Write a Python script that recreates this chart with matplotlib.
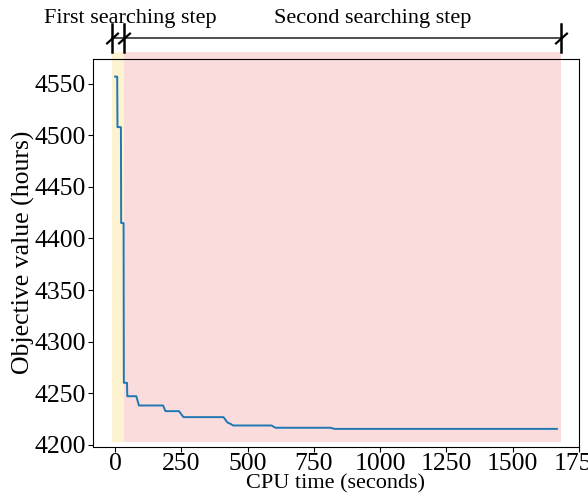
import numpy as np
import matplotlib
matplotlib.use('Agg')
import matplotlib.pyplot as plt
import matplotlib.transforms as mtransforms

plt.rcParams.update({
    'font.family': ['Liberation Serif', 'DejaVu Serif'],
    'font.size': 16,
    'xtick.labelsize': 18.5,
    'ytick.labelsize': 18.5,
    'axes.labelsize': 16,
})

# recorded incumbent objective over CPU time
cpu_time = [0, 8, 9, 22, 23, 32, 33, 45, 46, 80, 90, 181, 190, 241, 258,
            409, 424, 437, 445, 590, 605, 813, 828, 1667]
objective = [4557, 4557, 4508, 4508, 4415, 4415, 4260, 4260, 4247, 4247, 4238,
             4238, 4232.5, 4232.5, 4226.7, 4226.7, 4221.5, 4220, 4218.6, 4218.6,
             4216.4, 4216.4, 4215.3, 4215.3]

# phases of the search (seconds)
phase_names = ['First searching step', 'Second searching step']
phase_bounds = [(-10, 35), (35, 1682)]
phase_colors = ['#fdf3d1', '#fbdcdc']
label_x = [58, 971]

fig = plt.figure(figsize=(5.88, 4.96), dpi=100)
ax = fig.add_axes([93 / 588, 1 - 446.5 / 496, (579 - 93) / 588, (446.5 - 59) / 496])

ax.plot(cpu_time, objective, color='#1f77b4', lw=1.4, zorder=3)
ax.set_xlim(ax.get_xlim())
ax.set_ylim(ax.get_ylim())

for (x0, x1), c in zip(phase_bounds, phase_colors):
    ax.axvspan(x0, x1, ymin=0.012, ymax=1.018, color=c, lw=0, clip_on=False, zorder=1)

trans = mtransforms.blended_transform_factory(ax.transData, ax.transAxes)
edges = [phase_bounds[0][0], phase_bounds[1][0], phase_bounds[1][1]]
ax.plot([edges[0], edges[-1]], [1.054, 1.054], color='#404040', lw=1.3,
        transform=trans, clip_on=False)
for xe in edges:
    ax.plot([xe, xe], [1.018, 1.090], color='black', lw=1.8,
            transform=trans, clip_on=False)
    ax.plot([xe], [1.054], marker=[(-1, -0.9), (1, 0.9)], ms=9, mew=1.6,
            color='black', transform=trans, clip_on=False)

for name, lx in zip(phase_names, label_x):
    ax.text(lx, 1.094, name, transform=trans, ha='center', va='baseline')

ax.set_xticks([0, 250, 500, 750, 1000, 1250, 1500, 1750])
ax.set_yticks(np.arange(4200, 4551, 50))
ax.tick_params(pad=1.5)
ax.set_xlabel('CPU time (seconds)', labelpad=-1)
ax.set_ylabel('Objective value (hours)', fontsize=18.5, labelpad=0)

fig.savefig('out.png', dpi=100)
